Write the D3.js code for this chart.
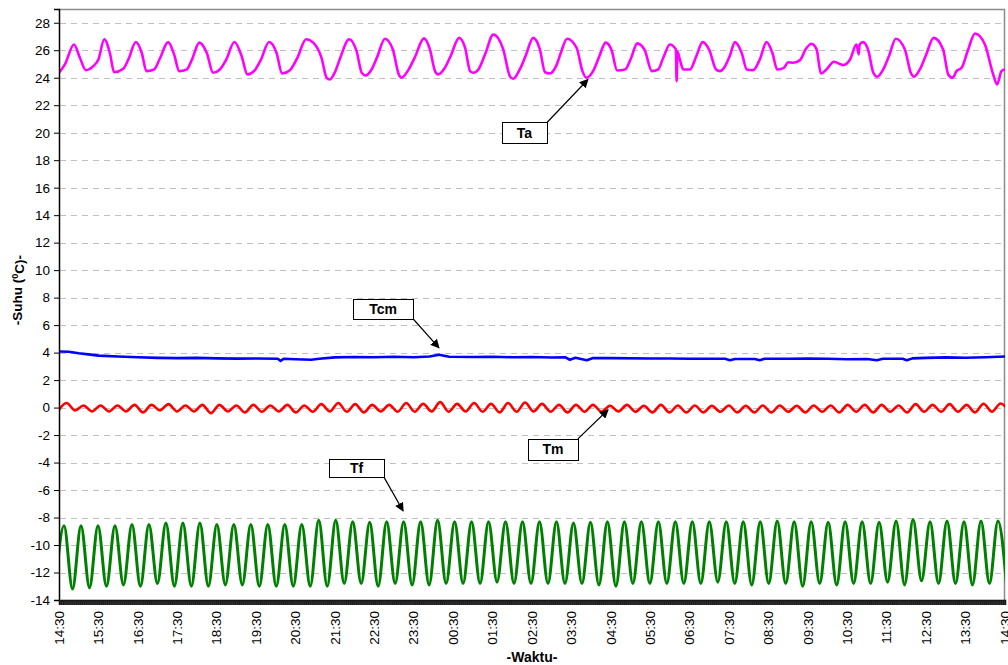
<!DOCTYPE html>
<html>
<head>
<meta charset="utf-8">
<script src="https://cdn.jsdelivr.net/npm/d3@7"></script>
<style>
  body { margin: 0; background: #fff; }
  text { font-family: Arial, "Liberation Sans", sans-serif; fill: #000; }
</style>
</head>
<body>
<div id="vis"></div>
<script>
// ---- data (hours after 14:30, temperature in degrees C) ----
var tickLabels = ['14:30','15:30','16:30','17:30','18:30','19:30','20:30','21:30','22:30','23:30',
                  '00:30','01:30','02:30','03:30','04:30','05:30','06:30','07:30','08:30','09:30',
                  '10:30','11:30','12:30','13:30','14:30'];
var yTicks = [-14,-12,-10,-8,-6,-4,-2,0,2,4,6,8,10,12,14,16,18,20,22,24,26,28];

// Ta: air temperature, read point by point
var taPoints = [
  [0.00,24.36],[0.15,24.97],[0.38,26.42],[0.53,25.45],[0.68,24.55],[0.87,24.84],[1.00,25.33],[1.15,26.80],
  [1.29,25.80],[1.40,24.40],[1.63,24.65],[1.76,25.33],[1.95,26.60],[2.10,25.80],[2.22,24.48],[2.41,24.60],
  [2.56,25.40],[2.77,26.59],[2.92,25.70],[3.05,24.48],[3.24,24.60],[3.37,25.30],[3.56,26.55],[3.75,25.80],
  [3.91,24.36],[4.08,24.60],[4.24,25.30],[4.45,26.60],[4.63,25.60],[4.78,24.24],[4.97,24.55],[5.12,25.30],
  [5.33,26.60],[5.52,25.80],[5.66,24.31],[5.86,24.55],[6.04,25.40],[6.27,26.80],[6.45,26.55],[6.66,25.45],
  [6.79,23.99],[6.87,23.87],[7.00,24.40],[7.13,25.40],[7.36,26.80],[7.55,25.93],[7.68,24.36],[7.78,24.16],
  [7.93,24.60],[8.07,25.50],[8.27,26.84],[8.47,26.05],[8.62,24.24],[8.69,24.00],[8.86,24.55],[9.03,25.50],
  [9.26,26.86],[9.41,26.06],[9.54,24.48],[9.62,24.24],[9.79,24.72],[9.94,25.60],[10.15,26.90],[10.30,26.20],
  [10.43,24.48],[10.51,24.36],[10.64,24.60],[10.81,25.70],[11.02,27.15],[11.27,26.06],[11.44,24.10],[11.52,23.92],
  [11.69,24.60],[11.84,25.60],[12.03,26.90],[12.20,26.06],[12.33,24.40],[12.45,24.31],[12.62,24.90],[12.73,25.80],
  [12.89,26.84],[13.13,26.18],[13.28,24.48],[13.38,24.00],[13.55,24.48],[13.70,25.50],[13.87,26.55],[14.02,26.00],
  [14.16,24.53],[14.36,24.60],[14.51,25.40],[14.67,26.50],[14.86,26.00],[15.04,24.48],[15.20,24.60],[15.33,25.45],
  [15.50,26.42],[15.65,26.06],[15.67,23.75],[15.69,25.90],[15.75,25.33],[15.84,24.60],[16.01,24.60],[16.16,25.50],
  [16.33,26.59],[16.50,26.00],[16.67,24.60],[16.77,24.48],[16.89,24.80],[17.02,25.60],[17.15,26.59],[17.32,25.80],
  [17.45,24.60],[17.61,24.55],[17.78,25.33],[17.95,26.59],[18.10,25.80],[18.22,24.60],[18.39,24.72],[18.50,25.13],
  [18.63,25.09],[18.80,25.28],[18.95,26.10],[19.09,26.47],[19.22,26.06],[19.33,24.31],[19.47,24.60],[19.66,25.16],
  [19.89,24.92],[20.07,25.33],[20.23,26.42],[20.29,25.70],[20.31,26.40],[20.40,26.59],[20.53,26.00],[20.66,24.36],
  [20.76,24.07],[20.91,24.60],[21.06,25.60],[21.23,26.84],[21.46,26.06],[21.61,24.36],[21.69,24.07],[21.84,24.60],
  [21.99,25.60],[22.19,26.90],[22.43,26.06],[22.56,24.24],[22.67,24.00],[22.77,24.48],[22.90,24.72],[23.06,26.00],
  [23.24,27.22],[23.49,26.42],[23.70,24.24],[23.80,23.51],[23.91,24.48],[24.00,24.60]
];

// Tcm: cabinet temperature
var tcmPoints = [
  [0.00,4.08],[0.25,4.06],[0.50,3.95],[0.80,3.85],[1.00,3.78],[1.50,3.72],[2.00,3.66],[2.50,3.62],
  [3.00,3.60],[3.50,3.62],[4.00,3.58],[4.50,3.56],[5.00,3.57],[5.55,3.55],[5.62,3.40],[5.70,3.55],
  [6.00,3.52],[6.40,3.48],[6.60,3.55],[7.00,3.65],[7.50,3.68],[8.00,3.66],[8.50,3.70],[9.00,3.66],
  [9.40,3.72],[9.64,3.84],[9.90,3.70],[10.50,3.68],[11.00,3.70],[11.50,3.66],[12.00,3.68],[12.50,3.64],
  [12.85,3.65],[12.96,3.48],[13.10,3.62],[13.39,3.45],[13.55,3.60],[14.00,3.60],[15.00,3.57],[15.50,3.57],
  [16.00,3.55],[16.90,3.55],[17.02,3.45],[17.15,3.53],[17.65,3.53],[17.78,3.45],[17.90,3.55],[18.50,3.55],
  [19.00,3.56],[19.50,3.55],[20.00,3.52],[20.50,3.54],[20.75,3.44],[20.90,3.55],[21.40,3.55],[21.51,3.45],
  [21.65,3.58],[22.00,3.62],[22.50,3.65],[23.00,3.63],[23.50,3.66],[24.00,3.72]
];

// Tf and Tm swing with the compressor cycle: extremes read cycle by cycle
var cycleHalf = 0.2154;   // hours between a peak and the next trough
var tfFirst = -0.088;     // time of the first Tf trough (just before 14:30)
var tmFirst = -0.023;     // Tm lags Tf slightly

var tfPeaks = [-8.6,-8.6,-8.6,-8.6,-8.5,-8.5,-8.4,-8.4,-8.4,-8.5,-8.5,-8.5,-8.5,-8.5,-8.5,-8.2,-8.2,
  -8.3,-8.35,-8.3,-8.3,-8.3,-8.2,-8.3,-8.3,-8.3,-8.3,-8.3,-8.3,-8.3,-8.4,-8.35,-8.3,-8.3,-8.3,-8.3,
  -8.3,-8.3,-8.3,-8.3,-8.3,-8.3,-8.25,-8.3,-8.3,-8.35,-8.3,-8.3,-8.35,-8.25,-8.15,-8.3,-8.25,-8.3,-8.25,-8.25];
var tfTroughs = [-13.0,
  -13.2,-13.1,-13.0,-12.9,-13.0,-12.8,-13.0,-13.0,-13.0,-12.9,-12.9,-13.0,-13.0,-13.0,-13.0,-13.0,
  -12.8,-12.8,-13.0,-12.8,-12.9,-12.9,-12.8,-12.8,-12.8,-12.7,-12.8,-12.8,-12.8,-12.8,-12.8,-12.9,-13.0,-12.8,-12.8,-12.8,
  -12.8,-12.8,-12.7,-12.8,-12.9,-12.8,-12.8,-13.0,-12.8,-12.9,-12.8,-12.8,-12.7,-12.9,-12.6,-12.8,-12.8,-12.9,-12.8,-12.8];

var tmPeaks = [0.33,0.15,0.15,0.15,0.2,0.2,0.25,0.15,0.2,0.2,0.15,0.2,
  0.15,0.2,0.15,0.25,
  0.33,0.25,0.2,0.2,0.33,0.27,0.4,0.27,0.33,0.27,0.33,0.37,0.27,0.2,0.2,0.2,0.13,0.2,0.13,0.2,
  0.15,0.15,0.13,0.15,0.13,0.15,0.15,0.13,0.15,0.15,0.2,0.2,0.2,0.15,0.25,0.2,0.25,0.2,0.28,0.3];
var tmTroughs = [-0.25,
  -0.2,-0.28,-0.28,-0.28,-0.35,-0.2,-0.28,-0.28,-0.4,-0.28,-0.35,
  -0.3,-0.28,-0.35,-0.3,-0.28,
  -0.3,-0.35,-0.28,-0.3,-0.3,-0.28,-0.3,-0.28,-0.3,-0.35,-0.3,-0.28,-0.3,-0.35,-0.3,-0.3,-0.28,-0.3,-0.35,-0.35,
  -0.35,-0.35,-0.3,-0.35,-0.35,-0.35,-0.3,-0.35,-0.3,-0.35,-0.3,-0.35,-0.3,-0.35,-0.3,-0.3,-0.3,-0.35,-0.3,-0.25];

// callouts: box centre and arrow tip in data units
var callouts = [
  { label: 'Ta',  t: 11.81, v: 19.98, w: 45, h: 21, tipT: 13.42, tipV: 23.87, fromTop: true },
  { label: 'Tcm', t: 8.22,  v: 7.19,  w: 60, h: 20, tipT: 9.64,  tipV: 4.35,  fromTop: false },
  { label: 'Tm',  t: 12.53, v: -3.04, w: 50, h: 21, tipT: 13.93, tipV: -0.16, fromTop: true },
  { label: 'Tf',  t: 7.55,  v: -4.42, w: 55, h: 18, tipT: 8.73,  tipV: -7.52, fromTop: false }
];

// ---- layout ----
var width = 1008, height = 665;
var margin = { top: 9, right: 3, bottom: 65, left: 59 };
var drawWidth = width - margin.left - margin.right;
var drawHeight = height - margin.top - margin.bottom;

var svg = d3.select('#vis').append('svg')
    .attr('width', width)
    .attr('height', height);

var x = d3.scaleLinear().domain([0, 24]).range([margin.left, margin.left + drawWidth]);
var y = d3.scaleLinear().domain([-14, 29]).range([margin.top + drawHeight, margin.top]);

svg.append('clipPath').attr('id', 'plot-clip')
  .append('rect')
    .attr('x', margin.left).attr('y', margin.top)
    .attr('width', drawWidth).attr('height', drawHeight);

// horizontal dashed grid
svg.append('g')
  .selectAll('line')
  .data(yTicks.filter(function(d) { return d > -14; }))
  .enter().append('line')
    .attr('x1', margin.left + 1).attr('x2', margin.left + drawWidth)
    .attr('y1', function(d) { return Math.round(y(d)) + 0.5; })
    .attr('y2', function(d) { return Math.round(y(d)) + 0.5; })
    .attr('stroke', '#c0c0c0')
    .attr('stroke-dasharray', '6,5');

// top and right frame of the plot area
svg.append('path')
  .attr('d', 'M' + margin.left + ',' + (margin.top + 0.5) + 'H' + (margin.left + drawWidth - 0.5) + 'V' + (margin.top + drawHeight))
  .attr('fill', 'none')
  .attr('stroke', '#8c8c8c')
  .attr('stroke-width', 1.5);

// ---- series ----
function zigzag(first, troughs, peaks) {
  var pts = [];
  for (var i = 0; i < peaks.length; i++) {
    pts.push([first + 2 * i * cycleHalf, troughs[i]]);
    pts.push([first + (2 * i + 1) * cycleHalf, peaks[i]]);
  }
  pts.push([first + 2 * peaks.length * cycleHalf, troughs[peaks.length]]);
  return pts;
}

var smooth = d3.line()
    .x(function(d) { return x(d[0]); })
    .y(function(d) { return y(d[1]); })
    .curve(d3.curveMonotoneX);
var plain = d3.line()
    .x(function(d) { return x(d[0]); })
    .y(function(d) { return y(d[1]); });

var series = [
  { pts: zigzag(tfFirst, tfTroughs, tfPeaks), color: '#008000', w: 3, gen: smooth },
  { pts: zigzag(tmFirst, tmTroughs, tmPeaks), color: '#ff0000', w: 2.6, gen: smooth },
  { pts: tcmPoints, color: '#0000ff', w: 2.6, gen: plain },
  { pts: taPoints, color: '#ff00ff', w: 2.6, gen: smooth }
];

svg.append('g')
    .attr('clip-path', 'url(#plot-clip)')
  .selectAll('path')
  .data(series)
  .enter().append('path')
    .attr('d', function(d) { return d.gen(d.pts); })
    .attr('fill', 'none')
    .attr('stroke', function(d) { return d.color; })
    .attr('stroke-width', function(d) { return d.w; })
    .attr('stroke-linejoin', 'round');

// ---- axes ----
// plain hyphen for negatives, like the original
var yAxis = d3.axisLeft(y).tickValues(yTicks).tickSize(5).tickPadding(4)
    .tickFormat(function(d) { return String(d); });
var yG = svg.append('g')
    .attr('transform', 'translate(' + margin.left + ',0)')
    .call(yAxis);
yG.select('.domain').attr('stroke', '#000').attr('stroke-width', 1.5);
yG.selectAll('text').style('font-size', '13.5px');

// dense category ticks make the dark band under the x axis
var minuteTicks = d3.range(0, 24 * 60 + 1).map(function(m) { return m / 60; });
var xTickG = svg.append('g')
    .attr('transform', 'translate(0,' + (margin.top + drawHeight) + ')')
    .call(d3.axisBottom(x).tickValues(minuteTicks).tickSize(5).tickFormat(''));
xTickG.selectAll('.tick line').attr('stroke', '#1a1a1a');
xTickG.select('.domain').attr('stroke', '#000').attr('stroke-width', 1.5);

var xLabels = svg.append('g')
  .selectAll('text')
  .data(tickLabels)
  .enter().append('text')
    .attr('transform', function(d, i) { return 'translate(' + x(i) + ',' + (margin.top + drawHeight + 11) + ') rotate(-90)'; })
    .attr('dy', '0.35em')
    .attr('text-anchor', 'end')
    .style('font-size', '13.5px')
    .text(function(d) { return d; });

// axis titles
svg.append('text')
    .attr('x', margin.left + drawWidth / 2)
    .attr('y', 662)
    .attr('text-anchor', 'middle')
    .style('font-size', '14px')
    .style('font-weight', 'bold')
    .text('-Waktu-');

var yTitle = svg.append('text')
    .attr('transform', 'translate(22,' + 290 + ') rotate(-90)')
    .attr('text-anchor', 'middle')
    .style('font-size', '13.5px')
    .style('font-weight', 'bold');
yTitle.append('tspan').text('-Suhu (');
yTitle.append('tspan').attr('dy', '-0.45em').style('font-size', '9px').text('0');
yTitle.append('tspan').attr('dy', '0.45em').text('C)-');

// ---- callouts ----
svg.append('defs').append('marker')
    .attr('id', 'arrow')
    .attr('viewBox', '0 0 10 10')
    .attr('refX', 9).attr('refY', 5)
    .attr('markerWidth', 9).attr('markerHeight', 9)
    .attr('markerUnits', 'userSpaceOnUse')
    .attr('orient', 'auto')
  .append('path')
    .attr('d', 'M0,0L10,5L0,10Z')
    .attr('fill', '#000');

var call = svg.append('g').selectAll('g')
  .data(callouts)
  .enter().append('g');

call.append('line')
    .attr('x1', function(d) { return x(d.t) + d.w / 2; })
    .attr('y1', function(d) { return y(d.v) + (d.fromTop ? -d.h / 2 : d.h / 2); })
    .attr('x2', function(d) { return x(d.tipT); })
    .attr('y2', function(d) { return y(d.tipV); })
    .attr('stroke', '#000')
    .attr('stroke-width', 1.2)
    .attr('marker-end', 'url(#arrow)');

call.append('rect')
    .attr('x', function(d) { return Math.round(x(d.t) - d.w / 2) + 0.5; })
    .attr('y', function(d) { return Math.round(y(d.v) - d.h / 2) + 0.5; })
    .attr('width', function(d) { return d.w; })
    .attr('height', function(d) { return d.h; })
    .attr('fill', '#fff')
    .attr('stroke', '#000');

call.append('text')
    .attr('x', function(d) { return x(d.t); })
    .attr('y', function(d) { return y(d.v); })
    .attr('dy', '0.36em')
    .attr('text-anchor', 'middle')
    .style('font-size', '14px')
    .style('font-weight', 'bold')
    .text(function(d) { return d.label; });
</script>
</body>
</html>
